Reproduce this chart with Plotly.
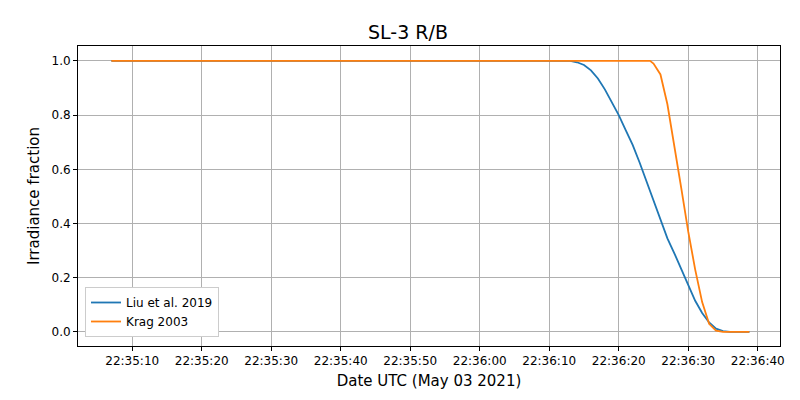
import plotly.graph_objects as go

day = '2021-05-03 '

liu_times = ['22:35:07', '22:36:13', '22:36:14', '22:36:15', '22:36:16', '22:36:17', '22:36:18',
             '22:36:19', '22:36:20', '22:36:21', '22:36:22', '22:36:23', '22:36:24', '22:36:25',
             '22:36:26', '22:36:27', '22:36:28', '22:36:29', '22:36:30', '22:36:31', '22:36:32',
             '22:36:33', '22:36:34', '22:36:35', '22:36:36', '22:36:37', '22:36:38.8']
liu_vals = [1.0, 1.0, 0.995, 0.985, 0.965, 0.935, 0.895,
            0.85, 0.80, 0.745, 0.69, 0.625, 0.555, 0.485,
            0.415, 0.345, 0.29, 0.23, 0.17, 0.115, 0.07,
            0.035, 0.012, 0.003, 0.0, 0.0, 0.0]

krag_times = ['22:35:07', '22:36:24.5', '22:36:25', '22:36:26', '22:36:27', '22:36:28', '22:36:29',
              '22:36:30', '22:36:31', '22:36:32', '22:36:33', '22:36:34', '22:36:35', '22:36:36',
              '22:36:37', '22:36:38.8']
krag_vals = [1.0, 1.0, 0.99, 0.95, 0.84, 0.69, 0.53,
             0.37, 0.23, 0.11, 0.03, 0.005, 0.0, 0.0,
             0.0, 0.0]

fig = go.Figure()
fig.add_trace(go.Scatter(x=[day + t for t in liu_times], y=liu_vals, mode='lines',
                         name='Liu et al. 2019', line=dict(color='#1f77b4', width=1.8)))
fig.add_trace(go.Scatter(x=[day + t for t in krag_times], y=krag_vals, mode='lines',
                         name='Krag 2003', line=dict(color='#ff7f0e', width=1.8)))

axis_style = dict(showgrid=True, gridcolor='#b0b0b0', gridwidth=1, showline=True,
                  linecolor='black', mirror=True, ticks='outside', ticklen=4,
                  tickcolor='black', zeroline=False, automargin=False,
                  tickfont=dict(size=12, color='black'))

fig.update_layout(
    title=dict(text='SL-3 R/B', x=0.5, y=0.94, xanchor='center', yanchor='middle',
               font=dict(size=19, color='black')),
    width=800, height=400,
    margin=dict(l=70, r=28, t=38, b=62),
    plot_bgcolor='white', paper_bgcolor='white',
    font=dict(family='DejaVu Sans', color='black'),
    xaxis=dict(axis_style, type='date', tickformat='%H:%M:%S', dtick=10000,
               tick0='2021-05-03 22:35:00',
               range=[day + '22:35:02.2', day + '22:36:43.2'],
               title=dict(text='Date UTC (May 03 2021)', font=dict(size=15), standoff=8)),
    yaxis=dict(axis_style, range=[-0.052, 1.055], tickvals=[0, 0.2, 0.4, 0.6, 0.8, 1.0],
               tickformat='.1f', title=dict(text='Irradiance fraction', font=dict(size=15), standoff=8)),
    legend=dict(x=0.01, y=0.03, xanchor='left', yanchor='bottom', bgcolor='white',
                bordercolor='#cccccc', borderwidth=1, font=dict(size=12)),
)

fig.write_html("out.html")
